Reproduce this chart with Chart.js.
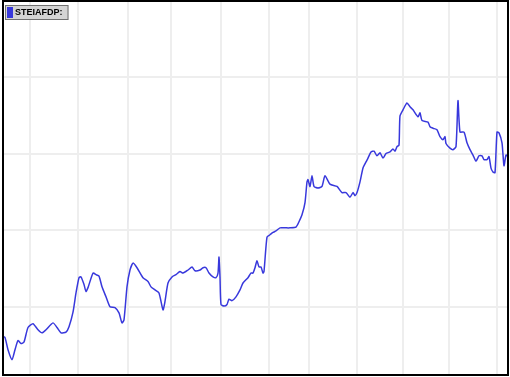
<!DOCTYPE html>
<html>
<head>
<meta charset="utf-8">
<script src="https://cdn.jsdelivr.net/npm/chart.js@4"></script>
<style>
  html, body { margin: 0; padding: 0; background: #fff; }
  #wrap { width: 510px; height: 377px; position: relative; }
</style>
</head>
<body>
<div id="wrap"><canvas id="lineChart"></canvas></div>
<script>
// Series (x = day number, y = value)
const seriesLabel = "STEIAFDP:";
const days = [
    0, 2, 5, 9, 12, 15, 18, 21, 25, 30,
    35, 39, 43, 50, 54, 58, 63, 66, 70, 73,
    76, 78, 81, 83, 85, 90, 93, 96, 99, 103,
    107, 112, 116, 119, 121, 124, 127, 130, 134, 140,
    145, 148, 152, 156, 160, 162, 165, 169, 173, 177,
    180, 185, 189, 192, 197, 200, 203, 206, 210, 213,
    215, 216, 217, 218, 221, 224, 226, 229, 233, 237,
    240, 245, 248, 250, 252, 254, 256, 258, 260, 261,
    264, 267, 270, 273, 277, 282, 287, 293, 296, 299,
    302, 304, 305, 307, 309, 311, 315, 319, 322, 327,
    334, 339, 343, 347, 350, 352, 354, 357, 360, 363,
    365, 368, 371, 374, 377, 380, 383, 387, 390, 392,
    394, 396, 397, 400, 404, 407, 410, 415, 417, 419,
    425, 427, 430, 434, 437, 440, 442, 443, 447, 450,
    453, 455, 457, 461, 464, 467, 470, 473, 476, 479,
    481, 484, 486, 488, 490, 492, 494, 496, 499, 501,
    503, 505
];
const values = [
    6.1, 6.0, 4.4, 3.1, 4.4, 5.6, 5.2, 5.4, 7.3, 7.8,
    7.0, 6.6, 7.0, 7.9, 7.3, 6.6, 6.7, 7.4, 9.3, 11.8,
    13.8, 13.9, 12.9, 12.0, 12.5, 14.4, 14.2, 14.0, 12.6, 11.3,
    10.0, 9.9, 9.2, 7.9, 8.3, 12.6, 14.8, 15.7, 15.1, 13.8,
    13.3, 12.6, 12.2, 11.8, 9.6, 10.7, 13.1, 13.9, 14.2, 14.6,
    14.4, 14.8, 15.2, 14.7, 14.8, 15.1, 15.1, 14.4, 13.9, 13.8,
    14.4, 16.5, 13.9, 10.3, 10.1, 10.3, 11.0, 10.8, 11.3, 12.2,
    13.1, 13.8, 14.4, 14.4, 15.1, 16.0, 15.2, 15.2, 14.4, 14.6,
    19.1, 19.4, 19.7, 19.9, 20.3, 20.3, 20.3, 20.4, 21.1, 22.0,
    23.6, 26.3, 26.6, 25.7, 27.1, 25.7, 25.5, 25.7, 27.1, 26.0,
    25.7, 24.9, 24.9, 24.3, 24.9, 24.5, 24.9, 26.3, 28.1, 28.9,
    29.4, 30.2, 30.3, 29.7, 30.1, 29.4, 30.0, 30.2, 30.6, 30.3,
    30.9, 31.1, 34.9, 35.7, 36.6, 36.1, 35.7, 34.8, 35.3, 34.3,
    34.1, 33.5, 33.3, 33.1, 32.2, 31.8, 32.2, 31.3, 30.7, 30.5,
    30.9, 36.9, 32.8, 32.8, 31.4, 30.5, 29.8, 29.0, 29.7, 29.7,
    29.2, 29.2, 29.6, 28.1, 27.6, 27.5, 32.8, 32.7, 31.4, 28.4,
    29.8, 29.6
];
// Gridline positions (no tick labels are shown)
const xGridDays = [27, 75, 125, 168, 218, 266, 306, 354, 400, 446, 494];
const yGridValues = [10, 20, 30, 40];

// Black frame round the plot area
const framePlugin = {
    id: "frame",
    afterDraw(chart) {
        const { ctx, chartArea: a } = chart;
        ctx.save();
        ctx.strokeStyle = "#000";
        ctx.lineWidth = 2;
        ctx.strokeRect(a.left, a.top, a.right - a.left, a.bottom - a.top);
        ctx.restore();
    }
};

// Boxed legend in the top-left corner
const boxLegendPlugin = {
    id: "boxLegend",
    afterDraw(chart) {
        const ctx = chart.ctx;
        const ds = chart.data.datasets[0];
        ctx.save();
        ctx.font = "bold 9px 'Liberation Sans', Arial, sans-serif";
        const tw = ctx.measureText(ds.label).width;
        const x = 5, y = 5, h = 15;
        const w = tw + 16;
        ctx.fillStyle = "#d4d4d4";
        ctx.fillRect(x, y, w, h);
        ctx.strokeStyle = "#707070";
        ctx.lineWidth = 1;
        ctx.strokeRect(x + 0.5, y + 0.5, w - 1, h - 1);
        ctx.fillStyle = ds.borderColor;
        ctx.fillRect(x + 2, y + 2, 6, h - 4);
        ctx.fillStyle = "#000";
        ctx.textBaseline = "middle";
        ctx.fillText(ds.label, x + 10, y + h / 2 + 0.5);
        ctx.restore();
    }
};

const points = days.map((d, i) => ({ x: d, y: values[i] }));

new Chart(document.getElementById("lineChart"), {
    type: "line",
    data: {
        datasets: [{
            label: seriesLabel,
            data: points,
            borderColor: "#3838dc",
            borderWidth: 1.5,
            pointRadius: 0,
            tension: 0.2,
            fill: false,
        }],
    },
    options: {
        responsive: true,
        maintainAspectRatio: false,
        animation: false,
        layout: { padding: { left: 3, right: 2, top: 1, bottom: 2 } },
        plugins: { legend: { display: false }, tooltip: { enabled: false } },
        scales: {
            x: {
                type: "linear",
                min: 0,
                max: 505,
                afterBuildTicks: scale => { scale.ticks = xGridDays.map(v => ({ value: v })); },
                ticks: { display: false },
                grid: { color: "#eeeeee", lineWidth: 2, drawTicks: false },
                border: { display: false },
            },
            y: {
                min: 1.1,
                max: 49.9,
                afterBuildTicks: scale => { scale.ticks = yGridValues.map(v => ({ value: v })); },
                ticks: { display: false },
                grid: { color: "#eeeeee", lineWidth: 2, drawTicks: false },
                border: { display: false },
            },
        },
    },
    plugins: [framePlugin, boxLegendPlugin],
});
</script>
</body>
</html>
